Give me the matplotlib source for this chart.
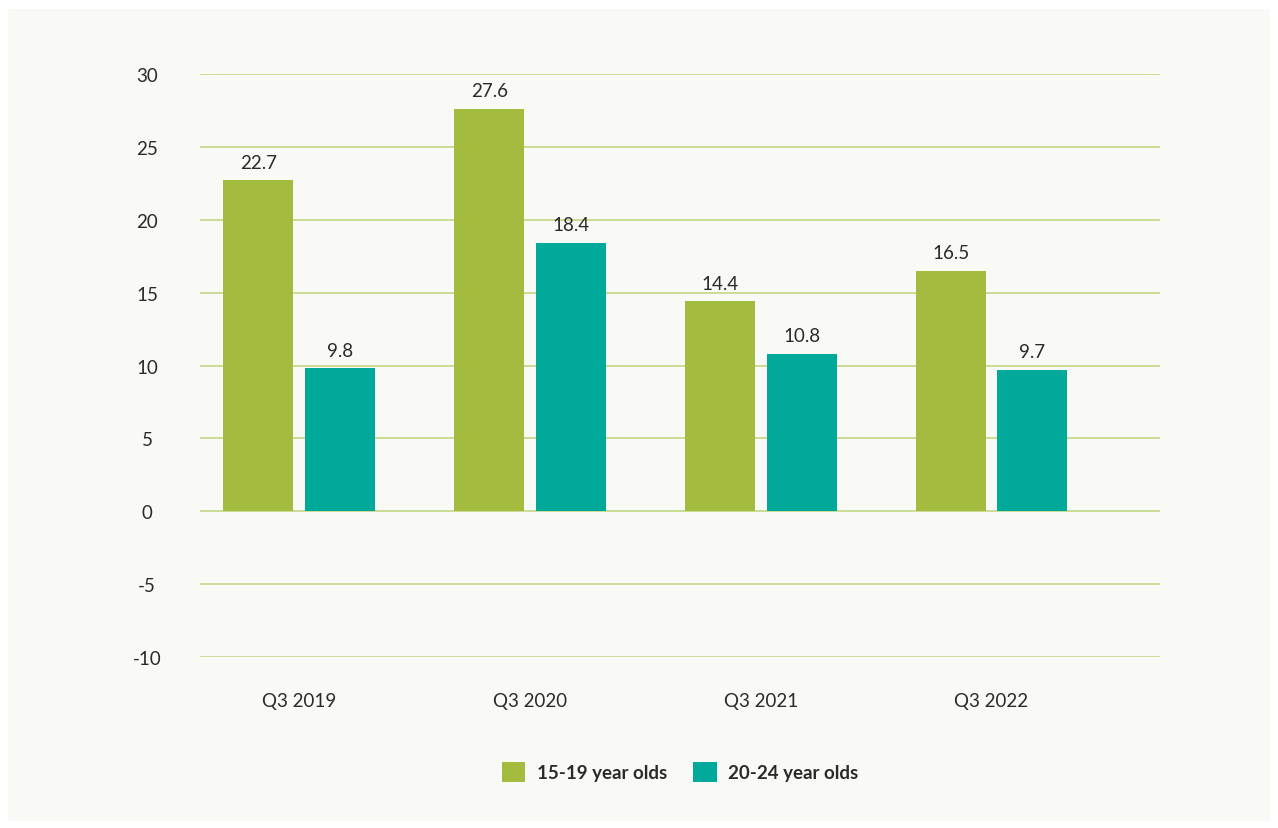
import matplotlib
matplotlib.use("Agg")
import matplotlib.pyplot as plt
from matplotlib.patches import Rectangle, Patch
import numpy as np

categories = ["Q3 2019", "Q3 2020", "Q3 2021", "Q3 2022"]
series_names = ["15-19 year olds", "20-24 year olds"]
teen_values = [22.7, 27.6, 14.4, 16.5]
young_adult_values = [9.8, 18.4, 10.8, 9.7]
y_ticks = [-10, -5, 0, 5, 10, 15, 20, 25, 30]

GREEN = "#A3BC3F"
TEAL = "#00A99A"
GRID = "#C2D683"
BG = "#F9FAF5"
TEXT = "#2a2a2a"

plt.rcParams["font.family"] = ["Lato", "DejaVu Sans"]

W, H = 1278, 829
fig = plt.figure(figsize=(W / 100, H / 100), dpi=100)
fig.patch.set_facecolor("white")
fig.add_artist(Rectangle((8 / W, 1 - 822 / H), (1270 - 8) / W, (822 - 10) / H,
                         transform=fig.transFigure, facecolor=BG,
                         edgecolor="none", zorder=0))

ax = fig.add_axes([200 / W, 1 - 658 / H, (1160 - 200) / W, (658 - 75) / H])
ax.set_facecolor("none")

x = np.arange(len(categories))
width = 0.303
offset = 0.177
b1 = ax.bar(x - offset, teen_values, width, color=GREEN, zorder=3,
            label=series_names[0])
b2 = ax.bar(x + offset, young_adult_values, width, color=TEAL, zorder=3,
            label=series_names[1])

for bars, vals in ((b1, teen_values), (b2, young_adult_values)):
    for rect, v in zip(bars, vals):
        ax.annotate(f"{v:.1f}", (rect.get_x() + rect.get_width() / 2, v),
                    xytext=(0, 7), textcoords="offset points",
                    ha="center", va="bottom", fontsize=13.5, color=TEXT)

ax.set_ylim(-10, 30)
ax.set_xlim(-0.43, 3.73)
ax.set_yticks(y_ticks)
ax.set_yticklabels([str(t) for t in y_ticks], fontsize=13.5, color=TEXT)
ax.set_xticks(x)
ax.set_xticklabels(categories, fontsize=13.5, color=TEXT)
ax.tick_params(axis="y", length=0, pad=38)
ax.tick_params(axis="x", length=0, pad=25)
for lbl in ax.get_yticklabels():
    lbl.set_horizontalalignment("center")
for lbl in ax.get_xticklabels():
    lbl.set_x(lbl.get_position()[0])

ax.grid(axis="y", color=GRID, linewidth=1.2, zorder=1)
ax.grid(axis="x", visible=False)
for s in ax.spines.values():
    s.set_visible(False)

handles = [Patch(facecolor=GREEN, label=series_names[0]),
           Patch(facecolor=TEAL, label=series_names[1])]
leg = fig.legend(handles=handles, loc="center", bbox_to_anchor=(680 / W, 1 - 773 / H),
                 ncol=2, frameon=False, handlelength=1.25, handleheight=1.25,
                 handletextpad=0.6, columnspacing=1.4,
                 prop={"size": 13.5, "weight": "bold"})
for t in leg.get_texts():
    t.set_color(TEXT)

fig.savefig("out.png", dpi=100, facecolor=fig.get_facecolor())
